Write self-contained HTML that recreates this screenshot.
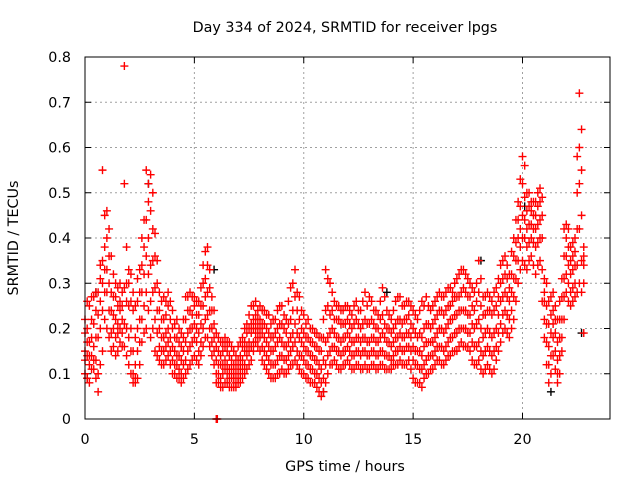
<!DOCTYPE html>
<html><head><meta charset="utf-8"><style>
html,body{margin:0;padding:0;background:#fff;}
svg{display:block;font-family:"DejaVu Sans","Liberation Sans",sans-serif;}
</style></head><body>
<svg id="chart" width="640" height="480">
<text x="345" y="32" text-anchor="middle" font-size="14.3">Day 334 of 2024, SRMTID for receiver lpgs</text>
<text x="345" y="471" text-anchor="middle" font-size="14.3">GPS time / hours</text>
<text transform="translate(18,238) rotate(-90)" text-anchor="middle" font-size="14.3">SRMTID / TECUs</text>
<g id="grid"></g>
<g id="ticks"></g>
<g id="black"></g>
<g id="red"></g>
<rect x="85" y="57" width="525" height="362" fill="none" stroke="#000" stroke-width="1"/>
</svg>
<script>
const xTicks=[0,5,10,15,20];
const yTicks=[0,0.1,0.2,0.3,0.4,0.5,0.6,0.7,0.8];
const yTickLabels=["0","0.1","0.2","0.3","0.4","0.5","0.6","0.7","0.8"];
const redHours=[0.0,0.2,0.4,0.6,0.8,1.0,1.2,1.4,1.6,1.8,2.0,2.2,2.4,2.6,2.8,3.0,3.2,3.4,3.6,3.8,4.0,4.2,4.4,4.6,4.8,5.0,5.2,5.4,5.6,5.8,6.0,6.2,6.4,6.6,6.8,7.0,7.2,7.4,7.6,7.8,8.0,8.2,8.4,8.6,8.8,9.0,9.2,9.4,9.6,9.8,10.0,10.2,10.4,10.6,10.8,11.0,11.2,11.4,11.6,11.8,12.0,12.2,12.4,12.6,12.8,13.0,13.2,13.4,13.6,13.8,14.0,14.2,14.4,14.6,14.8,15.0,15.2,15.4,15.6,15.8,16.0,16.2,16.4,16.6,16.8,17.0,17.2,17.4,17.6,17.8,18.0,18.2,18.4,18.6,18.8,19.0,19.2,19.4,19.6,19.8,20.0,20.2,20.4,20.6,20.8,21.0,21.2,21.4,21.6,21.8,22.0,22.2,22.4,22.6,22.8];
const redValues=[
[.10,.15,.19,.13,.22],[.08,.12,.17,.25,.14],[.11,.16,.21,.27,.13],[.06,.10,.18,.23,.28],[.15,.24,.30,.35,.55],
[.20,.28,.33,.40,.46],[.15,.19,.24,.28,.36],[.14,.18,.22,.27,.30],[.17,.20,.24,.26,.30],[.16,.21,.29,.52,.78],
[.12,.18,.25,.30,.33],[.08,.10,.15,.24,.28],[.09,.15,.20,.26,.31],[.17,.22,.28,.34,.40],[.20,.28,.36,.44,.55],
[.18,.26,.34,.46,.54],[.15,.22,.29,.36,.41],[.13,.16,.20,.24,.28],[.12,.15,.18,.22,.27],[.14,.17,.20,.25,.28],
[.10,.13,.16,.20,.24],[.09,.12,.14,.18,.22],[.08,.10,.13,.16,.19],[.10,.13,.17,.22,.27],[.12,.16,.20,.24,.28],
[.14,.18,.21,.25,.27],[.12,.15,.19,.23,.26],[.16,.20,.25,.30,.34],[.18,.23,.28,.34,.38],[.14,.17,.20,.24,.27],
[.08,.10,.13,.16,.19],[.07,.09,.12,.14,.17],[.08,.11,.13,.16,.18],[.07,.09,.11,.14,.17],[.07,.09,.10,.12,.15],
[.08,.09,.11,.13,.16],[.09,.11,.13,.16,.18],[.11,.14,.16,.19,.21],[.13,.16,.19,.21,.25],[.17,.19,.21,.23,.26],
[.15,.18,.20,.22,.25],[.12,.15,.18,.21,.24],[.10,.13,.16,.19,.23],[.09,.12,.15,.18,.22],[.10,.13,.17,.20,.24],
[.11,.14,.17,.21,.25],[.10,.13,.16,.19,.22],[.12,.15,.18,.22,.29],[.13,.17,.21,.27,.33],[.11,.14,.18,.22,.27],
[.10,.13,.16,.19,.23],[.09,.12,.15,.18,.22],[.08,.11,.14,.17,.20],[.07,.10,.13,.16,.19],[.05,.08,.11,.15,.18],
[.08,.12,.17,.24,.33],[.12,.15,.19,.23,.30],[.13,.16,.19,.22,.26],[.11,.15,.18,.22,.25],[.12,.15,.18,.21,.24],
[.13,.16,.19,.22,.25],[.11,.14,.17,.20,.23],[.12,.15,.18,.22,.26],[.11,.14,.17,.20,.24],[.12,.15,.18,.22,.28],
[.11,.14,.17,.21,.27],[.12,.15,.18,.21,.24],[.11,.14,.17,.20,.23],[.12,.15,.19,.23,.29],[.11,.14,.17,.20,.24],
[.11,.13,.16,.19,.22],[.12,.15,.18,.21,.26],[.13,.16,.19,.22,.27],[.12,.15,.18,.22,.25],[.13,.16,.19,.23,.26],
[.09,.13,.16,.20,.24],[.08,.12,.15,.18,.22],[.07,.11,.14,.18,.26],[.10,.13,.17,.21,.27],[.11,.14,.17,.20,.24],
[.12,.15,.18,.22,.26],[.13,.16,.20,.24,.28],[.12,.15,.19,.23,.27],[.14,.17,.21,.25,.29],[.15,.18,.22,.26,.28],
[.15,.19,.23,.27,.31],[.17,.20,.24,.28,.33],[.16,.20,.24,.28,.32],[.15,.19,.23,.27,.30],[.12,.16,.20,.24,.28],
[.13,.17,.22,.28,.35],[.10,.14,.18,.23,.27],[.12,.16,.20,.24,.28],[.10,.14,.18,.23,.26],[.13,.16,.20,.25,.29],
[.17,.21,.26,.30,.34],[.20,.24,.28,.32,.36],[.18,.22,.26,.29,.32],[.22,.27,.31,.36,.40],[.30,.35,.40,.44,.48],
[.35,.40,.45,.52,.58],[.33,.38,.42,.46,.50],[.36,.40,.43,.46,.48],[.32,.38,.42,.45,.48],[.35,.40,.44,.48,.51],
[.18,.22,.26,.28,.31],[.08,.12,.16,.21,.26],[.14,.18,.21,.24,.28],[.08,.10,.13,.17,.22],[.15,.18,.22,.27,.31],
[.28,.32,.36,.40,.43],[.25,.28,.32,.35,.38],[.27,.30,.34,.37,.40],[.30,.42,.52,.60,.72],[.19,.30,.34,.36,.38]];
const redHoursB=[0.1,0.3,0.5,0.7,0.9,1.1,1.3,1.5,1.7,1.9,2.1,2.3,2.5,2.7,2.9,3.1,3.3,3.5,3.7,3.9,4.1,4.3,4.5,4.7,4.9,5.1,5.3,5.5,5.7,5.9,6.1,6.3,6.5,6.7,6.9,7.1,7.3,7.5,7.7,7.9,8.1,8.3,8.5,8.7,8.9,9.1,9.3,9.5,9.7,9.9,10.1,10.3,10.5,10.7,10.9,11.1,11.3,11.5,11.7,11.9,12.1,12.3,12.5,12.7,12.9,13.1,13.3,13.5,13.7,13.9,14.1,14.3,14.5,14.7,14.9,15.1,15.3,15.5,15.7,15.9,16.1,16.3,16.5,16.7,16.9,17.1,17.3,17.5,17.7,17.9,18.1,18.3,18.5,18.7,18.9,19.1,19.3,19.5,19.7,19.9,20.1,20.3,20.5,20.7,20.9,21.1,21.3,21.5,21.7,21.9,22.1,22.3,22.5,22.7];
const redValuesB=[
[.09,.14,.17,.20,.26],[.11,.14,.18,.22,.27],[.09,.13,.18,.24,.28],[.12,.20,.26,.31,.34],[.22,.28,.33,.38,.45],
[.18,.24,.30,.36,.42],[.16,.20,.23,.27,.32],[.15,.19,.21,.25,.29],[.16,.19,.22,.25,.28],[.14,.20,.26,.30,.38],
[.10,.15,.20,.26,.32],[.08,.09,.12,.18,.25],[.12,.17,.22,.28,.33],[.19,.25,.32,.38,.44],[.24,.32,.40,.48,.52],
[.20,.28,.35,.42,.50],[.14,.19,.24,.30,.35],[.12,.15,.18,.22,.26],[.13,.16,.19,.23,.26],[.12,.15,.18,.22,.26],
[.10,.12,.15,.18,.21],[.09,.11,.14,.17,.20],[.09,.12,.15,.18,.22],[.11,.15,.19,.24,.27],[.13,.17,.20,.23,.27],
[.13,.17,.20,.23,.26],[.14,.17,.21,.25,.29],[.18,.22,.27,.31,.37],[.16,.20,.24,.29,.33],[.12,.15,.18,.21,.24],
[.08,.10,.12,.15,.18],[.07,.10,.12,.15,.17],[.08,.10,.12,.15,.17],[.07,.09,.11,.13,.16],[.07,.08,.10,.12,.14],
[.08,.10,.12,.14,.17],[.10,.12,.15,.17,.20],[.12,.15,.17,.20,.23],[.15,.17,.20,.22,.25],[.16,.18,.20,.22,.24],
[.13,.16,.19,.21,.24],[.11,.14,.17,.20,.23],[.09,.12,.15,.18,.21],[.09,.12,.16,.19,.22],[.10,.14,.18,.21,.25],
[.10,.13,.16,.20,.23],[.11,.14,.17,.21,.26],[.12,.16,.19,.24,.30],[.12,.15,.19,.24,.28],[.10,.14,.17,.20,.24],
[.09,.12,.15,.18,.21],[.08,.11,.14,.17,.20],[.08,.10,.13,.16,.19],[.06,.09,.12,.15,.18],[.06,.09,.13,.18,.22],
[.10,.14,.18,.25,.31],[.12,.16,.20,.24,.28],[.12,.15,.18,.22,.25],[.11,.14,.17,.21,.24],[.12,.15,.18,.21,.25],
[.12,.15,.18,.21,.24],[.11,.14,.17,.21,.25],[.12,.15,.18,.21,.24],[.11,.15,.18,.21,.26],[.11,.14,.17,.21,.25],
[.12,.15,.18,.22,.26],[.11,.14,.17,.20,.24],[.12,.15,.18,.22,.26],[.11,.14,.18,.21,.27],[.11,.14,.17,.20,.23],
[.12,.14,.17,.20,.24],[.12,.15,.18,.22,.27],[.12,.15,.18,.21,.25],[.12,.16,.19,.22,.26],[.11,.15,.18,.21,.25],
[.08,.12,.15,.19,.23],[.08,.11,.15,.19,.24],[.09,.12,.16,.20,.25],[.10,.14,.17,.21,.25],[.11,.14,.17,.21,.25],
[.13,.16,.19,.23,.27],[.12,.16,.20,.24,.27],[.13,.16,.20,.24,.28],[.14,.18,.22,.25,.29],[.15,.19,.23,.27,.30],
[.16,.20,.24,.27,.32],[.16,.20,.24,.29,.33],[.16,.19,.23,.27,.31],[.13,.17,.21,.25,.29],[.12,.16,.21,.26,.30],
[.11,.15,.20,.25,.31],[.11,.15,.19,.23,.27],[.11,.15,.19,.24,.27],[.11,.15,.19,.24,.28],[.15,.19,.23,.27,.31],
[.19,.23,.27,.31,.35],[.19,.23,.27,.31,.34],[.20,.24,.28,.32,.37],[.26,.31,.35,.39,.44],[.33,.38,.42,.47,.53],
[.34,.40,.44,.49,.56],[.35,.39,.43,.47,.50],[.34,.39,.42,.45,.48],[.34,.39,.43,.47,.50],[.26,.33,.40,.45,.49],
[.12,.17,.21,.25,.30],[.10,.14,.19,.23,.27],[.11,.15,.19,.22,.25],[.10,.14,.18,.22,.26],[.22,.27,.31,.36,.42],
[.26,.30,.34,.38,.42],[.26,.29,.33,.36,.39],[.28,.34,.42,.50,.58],[.28,.35,.45,.55,.64]];
const blackHours=[0.1,0.5,5.9,10.9,13.8,18.1,21.3,22.7,20.1,2.9];
const blackValues=[0.09,0.28,0.33,0.06,0.28,0.35,0.06,0.19,0.47,0.52];
const redFloorHours=[6.0,6.05];
const redFloorValues=[0.0,0.0];

const X0=85,X1=610,Y0=419,Y1=57;
const xs=h=>X0+h/24*(X1-X0);
const ys=v=>Y0-v/0.8*(Y0-Y1);
const NS="http://www.w3.org/2000/svg";
function mk(tag,attrs,parent){const e=document.createElementNS(NS,tag);for(const k in attrs)e.setAttribute(k,attrs[k]);parent.appendChild(e);return e;}
const grid=document.getElementById('grid'),ticks=document.getElementById('ticks');
xTicks.forEach(t=>{
  const x=xs(t);
  if(t>0){const g=mk('line',{x1:x,x2:x,y1:Y1,y2:Y0,stroke:'#a0a0a0','stroke-dasharray':'2,3'},grid);
  
  }
  mk('line',{x1:x,x2:x,y1:Y0,y2:Y0-6,stroke:'#000'},ticks);
  mk('line',{x1:x,x2:x,y1:Y1,y2:Y1+6,stroke:'#000'},ticks);
  const l=mk('text',{x:x,y:Y0+25,'text-anchor':'middle','font-size':'14.3'},ticks);
  l.textContent=String(t);
  
  
});
yTicks.forEach((t,i)=>{
  const y=ys(t);
  if(t>0&&t<0.8){const g=mk('line',{x1:X0,x2:X1,y1:y,y2:y,stroke:'#a0a0a0','stroke-dasharray':'2,3'},grid);
  
  }
  mk('line',{x1:X0,x2:X0+6,y1:y,y2:y,stroke:'#000'},ticks);
  mk('line',{x1:X1,x2:X1-6,y1:y,y2:y,stroke:'#000'},ticks);
  const l=mk('text',{x:71,y:y+5,'text-anchor':'end','font-size':'14.3'},ticks);
  l.textContent=yTickLabels[i];
  
  
});
function plus(g,x,y,color,name){
  const p=mk('path',{d:`M${x-4},${y}H${x+4}M${x},${y-4}V${y+4}`,stroke:color,'stroke-width':'1.4',fill:'none'},g);
  
  
}
const bg=document.getElementById('black');
blackHours.forEach((h,i)=>plus(bg,xs(h),ys(blackValues[i]),'#000','black-point'));
const rg=document.getElementById('red');
redHours.forEach((h,i)=>redValues[i].forEach(v=>plus(rg,xs(h),ys(v),'#ff0000','red-point')));
redHoursB.forEach((h,i)=>redValuesB[i].forEach(v=>plus(rg,xs(h),ys(v),'#ff0000','red-point')));
redFloorHours.forEach((h,i)=>plus(rg,xs(h),ys(redFloorValues[i]),'#ff0000','red-point'));
</script>
</body></html>
